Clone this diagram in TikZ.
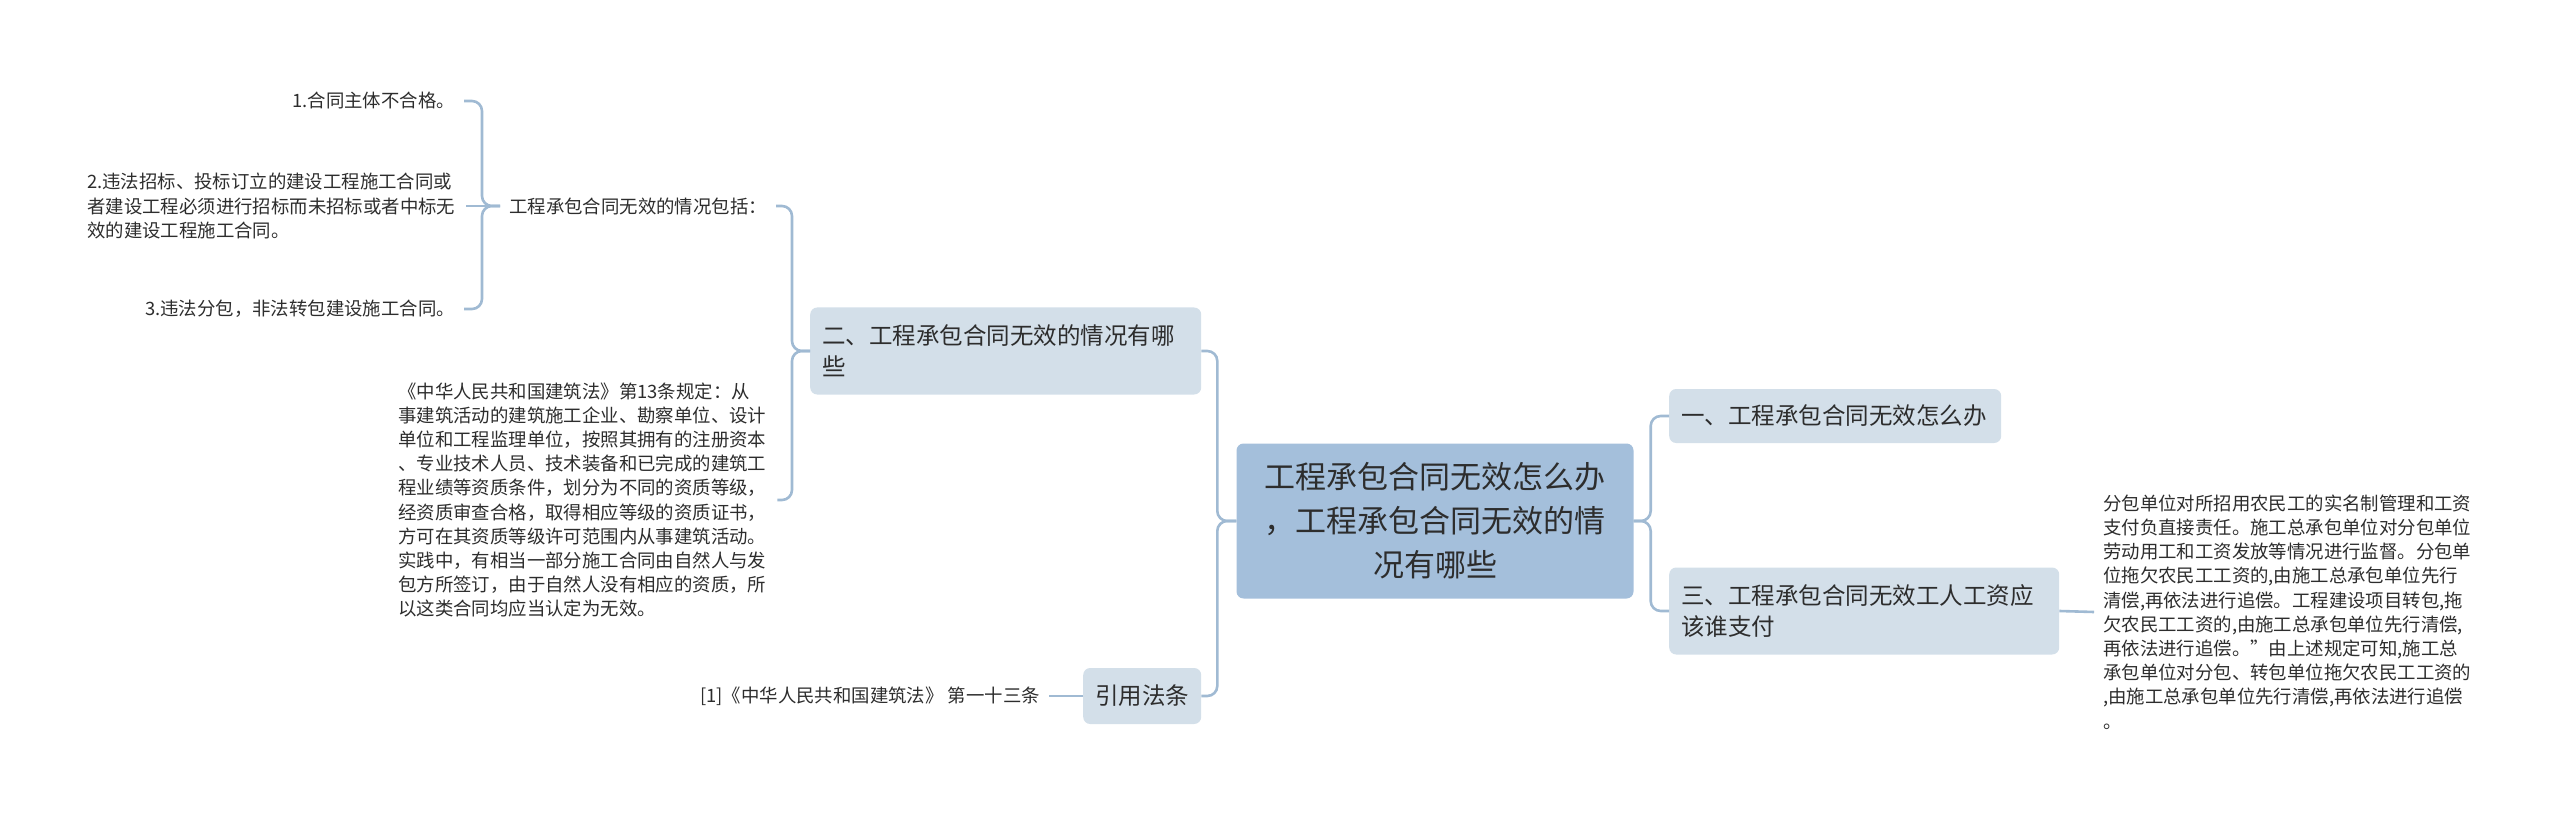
\documentclass[tikz,border=0pt]{standalone}
\usepackage{fontspec}
\setmainfont{Noto Sans CJK SC}
\usetikzlibrary{positioning}
\definecolor{rootblue}{RGB}{164,191,219}
\definecolor{subblue}{RGB}{211,223,233}
\definecolor{linkblue}{RGB}{160,186,211}
\definecolor{ink}{RGB}{45,45,45}
\tikzset{
	root/.style={fill=rootblue, rounded corners=7pt, text=ink, align=center,
		minimum width=397pt, minimum height=155pt, font=\fontsize{31pt}{44pt}\selectfont},
	topic/.style={fill=subblue, rounded corners=7pt, text=ink, align=left,
		inner xsep=12pt, font=\fontsize{23.5pt}{31pt}\selectfont},
	leaf/.style={text=ink, align=left, inner xsep=9pt, font=\fontsize{18.4pt}{24.2pt}\selectfont},
	link/.style={draw=linkblue, line width=2.6pt, rounded corners=10pt}
}
\begin{document}
\begin{tikzpicture}[x=1pt,y=-1pt]
	\useasboundingbox (0,0) rectangle (2560,818);
	\node[root] (Root) at (1435,521) {工程承包合同无效怎么办\\，工程承包合同无效的情\\况有哪些};
	% right side
	\node[topic, anchor=west, text width=308pt, minimum height=54pt] (One) at (1669,416) {一、工程承包合同无效怎么办};
	\node[topic, anchor=west, text width=366pt, minimum height=87pt] (Three) at (1669,611) {三、工程承包合同无效工人工资应\\该谁支付};
	\node[leaf, anchor=west, text width=372pt] (Pay) at (2094,612) {分包单位对所招用农民工的实名制管理和工资\\支付负直接责任。施工总承包单位对分包单位\\劳动用工和工资发放等情况进行监督。分包单\\位拖欠农民工工资的,由施工总承包单位先行\\清偿,再依法进行追偿。工程建设项目转包,拖\\欠农民工工资的,由施工总承包单位先行清偿,\\再依法进行追偿。”由上述规定可知,施工总\\承包单位对分包、转包单位拖欠农民工工资的\\,由施工总承包单位先行清偿,再依法进行追偿\\。};
	% left side
	\node[topic, anchor=west, text width=367pt, minimum height=87pt] (Two) at (810,351) {二、工程承包合同无效的情况有哪\\些};
	\node[topic, anchor=west, text width=94pt, align=center, minimum height=56pt] (Law) at (1083,696) {引用法条};
	\node[leaf, anchor=east] (Cite) at (1049,696) {[1]《中华人民共和国建筑法》 第一十三条};
	\node[leaf, anchor=west] (Incl) at (500,206) {工程承包合同无效的情况包括：};
	\node[leaf, anchor=west, text width=370pt] (Rule) at (389,500) {《中华人民共和国建筑法》第13条规定：从\\事建筑活动的建筑施工企业、勘察单位、设计\\单位和工程监理单位，按照其拥有的注册资本\\、专业技术人员、技术装备和已完成的建筑工\\程业绩等资质条件，划分为不同的资质等级，\\经资质审查合格，取得相应等级的资质证书，\\方可在其资质等级许可范围内从事建筑活动。\\实践中，有相当一部分施工合同由自然人与发\\包方所签订，由于自然人没有相应的资质，所\\以这类合同均应当认定为无效。};
	\node[leaf, anchor=east] (C1) at (464,101) {1.合同主体不合格。};
	\node[leaf, anchor=west, text width=370pt] (C2) at (78,206) {2.违法招标、投标订立的建设工程施工合同或\\者建设工程必须进行招标而未招标或者中标无\\效的建设工程施工合同。};
	\node[leaf, anchor=east] (C3) at (464,309) {3.违法分包，非法转包建设施工合同。};
	% connectors
	\draw[link] (Root.east) -- ++(17,0) |- (One.west);
	\draw[link] (Root.east) -- ++(17,0) |- (Three.west);
	\draw[link] (Three.east) -- (Pay.west);
	\draw[link] (Root.west) -- ++(-19,0) |- (Two.east);
	\draw[link] (Root.west) -- ++(-19,0) |- (Law.east);
	\draw[link] (Law.west) -- (Cite.east);
	\draw[link] (Two.west) -- ++(-18,0) |- (Incl.east);
	\draw[link] (Two.west) -- ++(-18,0) |- (Rule.east);
	\draw[link] (Incl.west) -- ++(-18,0) |- (C1.east);
	\draw[link] (Incl.west) -- (C2.east);
	\draw[link] (Incl.west) -- ++(-18,0) |- (C3.east);
\end{tikzpicture}
\end{document}
